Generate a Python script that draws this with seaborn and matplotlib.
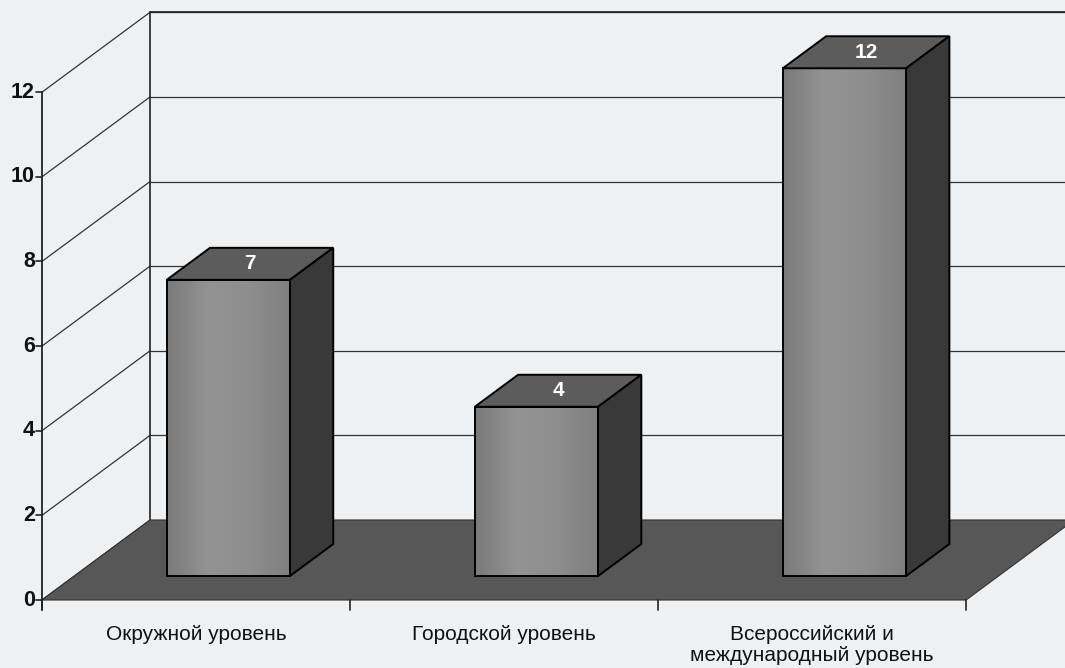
import numpy as np
import pandas as pd
import matplotlib
matplotlib.use("Agg")
import matplotlib.pyplot as plt
from matplotlib.patches import Polygon
from matplotlib.colors import LinearSegmentedColormap
import seaborn as sns

categories = ["Окружной уровень", "Городской уровень",
              "Всероссийский и\nмеждународный уровень"]
values = [7, 4, 12]
yticks = [0, 2, 4, 6, 8, 10, 12]

sns.set_style("white")
plt.rcParams['font.family'] = ['Liberation Sans', 'DejaVu Sans']

bg = '#eef1f4'
front_col = '#8a8a8a'
top_col = '#5c5c5c'
side_col = '#393939'
floor_col = '#575757'
front_grad = LinearSegmentedColormap.from_list('fg', ['#7a7a7a', '#939393', '#8e8e8e', '#7f7f7f'])

# oblique projection: full depth offset in data units
DX, DY = 0.351, 1.89
d0, d1 = 0.3, 0.7          # bar front / back depth fraction
ymax = 12
n = len(categories)

fig = plt.figure(figsize=(10.65, 6.68), dpi=100, facecolor=bg)
ax = fig.add_axes([0, 0, 1, 1])
ax.set_facecolor(bg)

df = pd.DataFrame({'cat': categories, 'val': values})
sns.barplot(data=df, x='cat', y='val', width=0.4, color=front_col,
            saturation=1, edgecolor='black', linewidth=1.4, ax=ax, zorder=4)

x0, x1 = -0.5, n - 0.5

# back wall gridlines + left wall diagonals
for v in yticks:
    ax.plot([x0, x0 + DX], [v, v + DY], color='#333333', lw=0.9, zorder=1)
    ax.plot([x0 + DX, x1 + DX], [v + DY, v + DY], color='#333333', lw=0.9, zorder=1)
ax.plot([x0 + DX, x0 + DX], [DY, ymax + DY], color='#222222', lw=1.2, zorder=1)
ax.plot([x0 + DX, x1 + DX], [ymax + DY, ymax + DY], color='#222222', lw=1.2, zorder=1)

# floor
floor = Polygon([(x0, 0), (x1, 0), (x1 + DX, DY), (x0 + DX, DY)], closed=True,
                facecolor=floor_col, edgecolor='#333333', lw=0.8, zorder=2)
ax.add_patch(floor)

# value axis
ax.plot([x0, x0], [-0.24, ymax], color='#222222', lw=1.3, zorder=3)
tl = 0.018
for v in yticks:
    ax.plot([x0 - tl, x0], [v, v], color='#222222', lw=1.2, zorder=3)
    ax.text(x0 - tl - 0.004, v, str(v), ha='right', va='center',
            fontsize=15.5, fontweight='bold', color='#111111')

# category ticks
for k in range(n + 1):
    ax.plot([x0 + k, x0 + k], [0, -0.24], color='#222222', lw=1.2, zorder=3)
for k, c in enumerate(categories):
    ax.text(k, -0.6, c, ha='center', va='top', fontsize=15,
            color='#111111', linespacing=1.12)

# turn seaborn front faces into 3D boxes
fx, fy = d0 * DX, d0 * DY
bx, by = (d1 - d0) * DX, (d1 - d0) * DY
grad = np.linspace(0, 1, 64).reshape(1, -1)
for p, v in zip(ax.patches[:n], values):
    p.set_x(p.get_x() + fx)
    p.set_y(fy)
    xl, w, h = p.get_x(), p.get_width(), p.get_height()
    yt = fy + h
    im = ax.imshow(grad, cmap=front_grad, aspect='auto', extent=(xl, xl + w, fy, yt),
                   zorder=4.1, interpolation='bilinear')
    im.set_clip_path(p)
    p.set_facecolor('none')
    p.set_zorder(4.2)
    top = Polygon([(xl, yt), (xl + w, yt), (xl + w + bx, yt + by), (xl + bx, yt + by)],
                  closed=True, facecolor=top_col, edgecolor='black', lw=1.4, zorder=5)
    side = Polygon([(xl + w, fy), (xl + w + bx, fy + by), (xl + w + bx, yt + by), (xl + w, yt)],
                   closed=True, facecolor=side_col, edgecolor='black', lw=1.4, zorder=5)
    ax.add_patch(top)
    ax.add_patch(side)
    ax.text(xl + w / 2 + bx / 2, yt + by / 2, str(v), ha='center', va='center',
            fontsize=15, fontweight='bold', color='white', zorder=6)

ax.set_xlim(-0.636, 2.821)
ax.set_ylim(-1.607, 14.18)
ax.axis('off')

fig.savefig('out.png', dpi=100, facecolor=bg)
